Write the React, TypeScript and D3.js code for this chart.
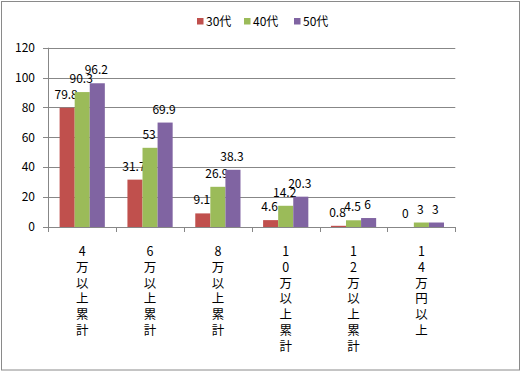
import React from "react";
import * as d3 from "d3";

const categories = ["4万以上累計", "6万以上累計", "8万以上累計", "10万以上累計", "12万以上累計", "14万円以上"];
const seriesNames = ["30代", "40代", "50代"];
const s30 = [79.8, 31.7, 9.1, 4.6, 0.8, 0];
const s40 = [90.3, 53, 26.9, 14.2, 4.5, 3];
const s50 = [96.2, 69.9, 38.3, 20.3, 6, 3];
const yTicks = [0, 20, 40, 60, 80, 100, 120];
const colors = ["#C0504D", "#9BBB59", "#8064A2"];

const FONT = "'Noto Sans CJK JP', 'Noto Sans', sans-serif";

export default function App() {
  const W = 524, H = 372;
  const left = 48.3, right = 455.3, top = 47.7, bottom = 227;
  const seriesData = [s30, s40, s50];
  const x0 = d3.scaleBand<string>().domain(categories).range([left, right]).paddingInner(0).paddingOuter(0);
  const bw = x0.bandwidth();
  const barW = bw / 4.5;
  const x1 = d3.scaleBand<string>().domain(seriesNames).range([0.75 * barW, 3.75 * barW]);
  const y = d3.scaleLinear().domain([0, 120]).range([bottom, top]);
  const gridColor = "#878787";

  return (
    <svg width={W} height={H} style={{ position: "absolute", left: 0, top: 0 }} fontFamily={FONT}>
      <rect x={0} y={0} width={W} height={H} fill="#fff" />
      <rect x={1.5} y={1.5} width={518} height={368.5} fill="none" stroke="#8a8a8a" strokeWidth={1} />
      {/* Legend */}
      {seriesNames.map((s, i) => {
        const lx = [197, 244, 294][i];
        return (
          <g key={s}>
            <rect x={lx} y={18} width={6.5} height={6.5} fill={colors[i]} />
            <text x={lx + 9} y={26} fontSize={12} fill="#000">{s}</text>
          </g>
        );
      })}
      {/* Gridlines */}
      {yTicks.filter(t => t > 0).map(t => (
        <line key={t} x1={left} x2={right} y1={Math.round(y(t)) + 0.5} y2={Math.round(y(t)) + 0.5} stroke={gridColor} strokeWidth={1} />
      ))}
      {/* Y axis */}
      <line x1={Math.round(left) + 0.5} x2={Math.round(left) + 0.5} y1={y(120)} y2={bottom} stroke={gridColor} />
      {yTicks.map(t => (
        <g key={t}>
          <line x1={43} x2={left} y1={Math.round(y(t)) + 0.5} y2={Math.round(y(t)) + 0.5} stroke={gridColor} />
          <text x={35} y={y(t) + 1} textAnchor="end" dominantBaseline="middle" fontSize={12} fill="#000">{t}</text>
        </g>
      ))}
      {/* Bars */}
      {categories.map((c, ci) => (
        <g key={c}>
          {seriesNames.map((s, si) => {
            const v = seriesData[si][ci];
            const bx = (x0(c) as number) + (x1(s) as number);
            const by = y(v);
            return (
              <g key={s}>
                <rect x={bx} y={by} width={x1.bandwidth()} height={bottom - by} fill={colors[si]} />
                <text x={bx + x1.bandwidth() / 2 - 1} y={by - 9} textAnchor="middle" fontSize={12} fill="#000">{v}</text>
              </g>
            );
          })}
        </g>
      ))}
      {/* X axis */}
      <line x1={left} x2={right} y1={Math.round(bottom) + 0.5} y2={Math.round(bottom) + 0.5} stroke={gridColor} />
      {categories.concat(["__end"]).map((c, i) => {
        const tx = Math.round(i < categories.length ? (x0(c) as number) : right) + 0.5;
        return <line key={c} x1={tx} x2={tx} y1={bottom} y2={bottom + 5} stroke={gridColor} />;
      })}
      {categories.map(c => {
        const cx = (x0(c) as number) + bw / 2;
        return (
          <text key={c} x={cx} y={245} fontSize={12.5} fill="#000"
            style={{ writingMode: "vertical-rl", textOrientation: "upright", letterSpacing: "3.3px" } as React.CSSProperties}>
            {c}
          </text>
        );
      })}
    </svg>
  );
}
